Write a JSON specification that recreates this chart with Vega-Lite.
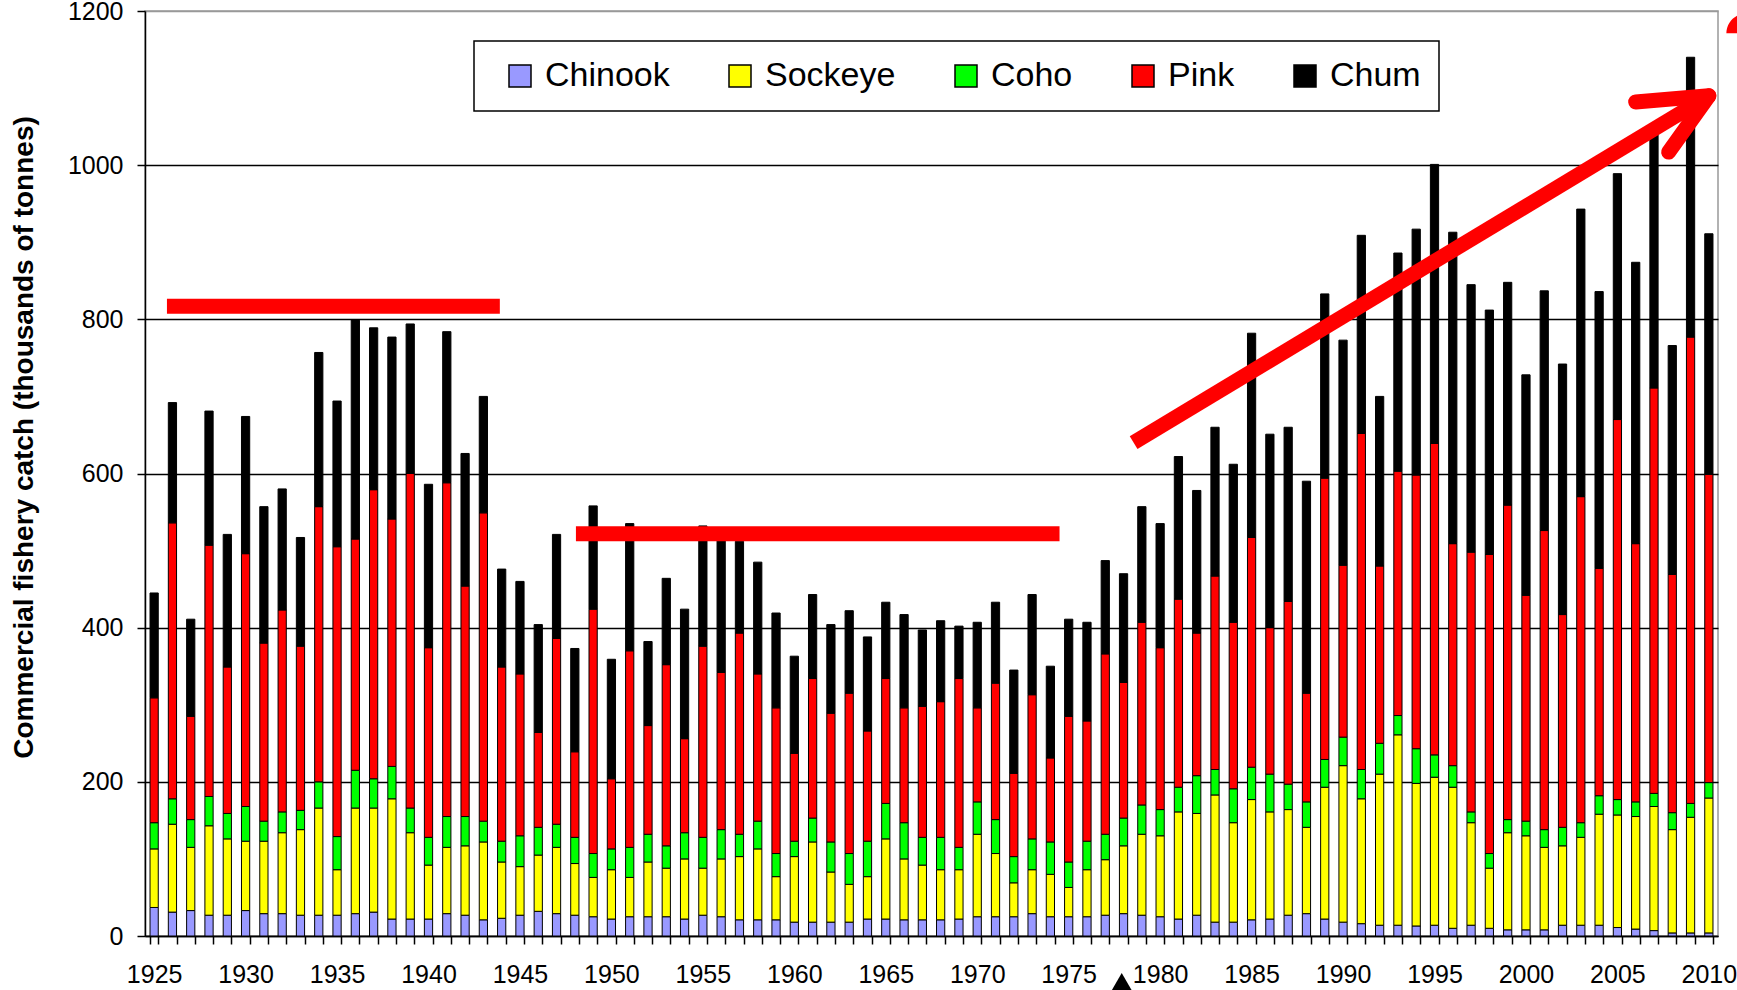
{
  "$schema": "https://vega.github.io/schema/vega-lite/v6.json",
  "width": 1573,
  "height": 925,
  "autosize": {"type": "none"},
  "padding": {"left": 145, "top": 11, "right": 19, "bottom": 54},
  "background": "white",
  "config": {
    "font": "Liberation Sans",
    "view": {"stroke": "#999999", "strokeWidth": 1.5}
  },
  "layer": [
    {
      "data": {"values": [
        {"year":1925,"Chinook":37,"Sockeye":76,"Coho":34,"Pink":162,"Chum":136},
        {"year":1926,"Chinook":31,"Sockeye":114,"Coho":33,"Pink":358,"Chum":156},
        {"year":1927,"Chinook":33,"Sockeye":82,"Coho":36,"Pink":134,"Chum":126},
        {"year":1928,"Chinook":27,"Sockeye":116,"Coho":38,"Pink":326,"Chum":174},
        {"year":1929,"Chinook":27,"Sockeye":99,"Coho":33,"Pink":190,"Chum":172},
        {"year":1930,"Chinook":33,"Sockeye":90,"Coho":45,"Pink":328,"Chum":178},
        {"year":1931,"Chinook":29,"Sockeye":94,"Coho":26,"Pink":231,"Chum":177},
        {"year":1932,"Chinook":29,"Sockeye":105,"Coho":27,"Pink":262,"Chum":157},
        {"year":1933,"Chinook":27,"Sockeye":111,"Coho":25,"Pink":213,"Chum":141},
        {"year":1934,"Chinook":27,"Sockeye":139,"Coho":34,"Pink":357,"Chum":200},
        {"year":1935,"Chinook":27,"Sockeye":59,"Coho":43,"Pink":376,"Chum":189},
        {"year":1936,"Chinook":29,"Sockeye":137,"Coho":49,"Pink":300,"Chum":284},
        {"year":1937,"Chinook":31,"Sockeye":135,"Coho":38,"Pink":375,"Chum":210},
        {"year":1938,"Chinook":22,"Sockeye":156,"Coho":42,"Pink":321,"Chum":236},
        {"year":1939,"Chinook":22,"Sockeye":112,"Coho":32,"Pink":434,"Chum":194},
        {"year":1940,"Chinook":22,"Sockeye":70,"Coho":36,"Pink":246,"Chum":212},
        {"year":1941,"Chinook":29,"Sockeye":86,"Coho":40,"Pink":433,"Chum":196},
        {"year":1942,"Chinook":27,"Sockeye":90,"Coho":38,"Pink":299,"Chum":172},
        {"year":1943,"Chinook":21,"Sockeye":101,"Coho":27,"Pink":400,"Chum":151},
        {"year":1944,"Chinook":23,"Sockeye":73,"Coho":27,"Pink":226,"Chum":127},
        {"year":1945,"Chinook":27,"Sockeye":63,"Coho":40,"Pink":210,"Chum":120},
        {"year":1946,"Chinook":32,"Sockeye":73,"Coho":36,"Pink":123,"Chum":140},
        {"year":1947,"Chinook":29,"Sockeye":86,"Coho":30,"Pink":241,"Chum":135},
        {"year":1948,"Chinook":27,"Sockeye":67,"Coho":34,"Pink":111,"Chum":134},
        {"year":1949,"Chinook":25,"Sockeye":51,"Coho":31,"Pink":317,"Chum":134},
        {"year":1950,"Chinook":22,"Sockeye":64,"Coho":27,"Pink":91,"Chum":155},
        {"year":1951,"Chinook":25,"Sockeye":51,"Coho":39,"Pink":255,"Chum":165},
        {"year":1952,"Chinook":25,"Sockeye":71,"Coho":36,"Pink":141,"Chum":109},
        {"year":1953,"Chinook":25,"Sockeye":63,"Coho":29,"Pink":235,"Chum":112},
        {"year":1954,"Chinook":22,"Sockeye":78,"Coho":34,"Pink":122,"Chum":168},
        {"year":1955,"Chinook":27,"Sockeye":61,"Coho":40,"Pink":248,"Chum":156},
        {"year":1956,"Chinook":25,"Sockeye":75,"Coho":38,"Pink":204,"Chum":178},
        {"year":1957,"Chinook":21,"Sockeye":82,"Coho":29,"Pink":261,"Chum":119},
        {"year":1958,"Chinook":21,"Sockeye":92,"Coho":36,"Pink":191,"Chum":145},
        {"year":1959,"Chinook":21,"Sockeye":56,"Coho":30,"Pink":189,"Chum":123},
        {"year":1960,"Chinook":18,"Sockeye":85,"Coho":20,"Pink":114,"Chum":126},
        {"year":1961,"Chinook":18,"Sockeye":104,"Coho":31,"Pink":181,"Chum":109},
        {"year":1962,"Chinook":18,"Sockeye":65,"Coho":39,"Pink":167,"Chum":115},
        {"year":1963,"Chinook":18,"Sockeye":49,"Coho":40,"Pink":208,"Chum":107},
        {"year":1964,"Chinook":22,"Sockeye":55,"Coho":46,"Pink":143,"Chum":122},
        {"year":1965,"Chinook":22,"Sockeye":104,"Coho":46,"Pink":162,"Chum":99},
        {"year":1966,"Chinook":21,"Sockeye":79,"Coho":47,"Pink":149,"Chum":121},
        {"year":1967,"Chinook":21,"Sockeye":71,"Coho":36,"Pink":170,"Chum":99},
        {"year":1968,"Chinook":21,"Sockeye":65,"Coho":42,"Pink":176,"Chum":105},
        {"year":1969,"Chinook":22,"Sockeye":64,"Coho":29,"Pink":219,"Chum":68},
        {"year":1970,"Chinook":25,"Sockeye":107,"Coho":42,"Pink":122,"Chum":111},
        {"year":1971,"Chinook":25,"Sockeye":82,"Coho":44,"Pink":177,"Chum":105},
        {"year":1972,"Chinook":25,"Sockeye":44,"Coho":34,"Pink":108,"Chum":134},
        {"year":1973,"Chinook":29,"Sockeye":57,"Coho":40,"Pink":187,"Chum":130},
        {"year":1974,"Chinook":25,"Sockeye":55,"Coho":42,"Pink":109,"Chum":119},
        {"year":1975,"Chinook":25,"Sockeye":38,"Coho":33,"Pink":189,"Chum":126},
        {"year":1976,"Chinook":25,"Sockeye":61,"Coho":37,"Pink":156,"Chum":128},
        {"year":1977,"Chinook":27,"Sockeye":72,"Coho":33,"Pink":234,"Chum":121},
        {"year":1978,"Chinook":29,"Sockeye":88,"Coho":36,"Pink":176,"Chum":141},
        {"year":1979,"Chinook":27,"Sockeye":105,"Coho":38,"Pink":237,"Chum":150},
        {"year":1980,"Chinook":25,"Sockeye":105,"Coho":34,"Pink":210,"Chum":161},
        {"year":1981,"Chinook":22,"Sockeye":139,"Coho":32,"Pink":244,"Chum":185},
        {"year":1982,"Chinook":27,"Sockeye":132,"Coho":49,"Pink":185,"Chum":185},
        {"year":1983,"Chinook":18,"Sockeye":165,"Coho":33,"Pink":251,"Chum":193},
        {"year":1984,"Chinook":18,"Sockeye":129,"Coho":44,"Pink":216,"Chum":205},
        {"year":1985,"Chinook":21,"Sockeye":156,"Coho":42,"Pink":298,"Chum":265},
        {"year":1986,"Chinook":22,"Sockeye":139,"Coho":49,"Pink":190,"Chum":251},
        {"year":1987,"Chinook":27,"Sockeye":137,"Coho":33,"Pink":237,"Chum":226},
        {"year":1988,"Chinook":29,"Sockeye":112,"Coho":33,"Pink":141,"Chum":275},
        {"year":1989,"Chinook":22,"Sockeye":171,"Coho":36,"Pink":365,"Chum":239},
        {"year":1990,"Chinook":18,"Sockeye":203,"Coho":37,"Pink":223,"Chum":292},
        {"year":1991,"Chinook":16,"Sockeye":162,"Coho":38,"Pink":436,"Chum":257},
        {"year":1992,"Chinook":14,"Sockeye":196,"Coho":40,"Pink":230,"Chum":220},
        {"year":1993,"Chinook":14,"Sockeye":247,"Coho":25,"Pink":317,"Chum":283},
        {"year":1994,"Chinook":13,"Sockeye":185,"Coho":45,"Pink":355,"Chum":319},
        {"year":1995,"Chinook":14,"Sockeye":192,"Coho":29,"Pink":404,"Chum":362},
        {"year":1996,"Chinook":10,"Sockeye":183,"Coho":28,"Pink":288,"Chum":404},
        {"year":1997,"Chinook":14,"Sockeye":133,"Coho":14,"Pink":337,"Chum":347},
        {"year":1998,"Chinook":10,"Sockeye":78,"Coho":19,"Pink":388,"Chum":317},
        {"year":1999,"Chinook":8,"Sockeye":126,"Coho":17,"Pink":408,"Chum":289},
        {"year":2000,"Chinook":8,"Sockeye":122,"Coho":19,"Pink":293,"Chum":286},
        {"year":2001,"Chinook":8,"Sockeye":107,"Coho":23,"Pink":388,"Chum":311},
        {"year":2002,"Chinook":14,"Sockeye":103,"Coho":24,"Pink":276,"Chum":325},
        {"year":2003,"Chinook":14,"Sockeye":114,"Coho":19,"Pink":423,"Chum":373},
        {"year":2004,"Chinook":14,"Sockeye":144,"Coho":24,"Pink":295,"Chum":359},
        {"year":2005,"Chinook":11,"Sockeye":146,"Coho":20,"Pink":493,"Chum":319},
        {"year":2006,"Chinook":9,"Sockeye":146,"Coho":19,"Pink":335,"Chum":365},
        {"year":2007,"Chinook":7,"Sockeye":161,"Coho":17,"Pink":526,"Chum":339},
        {"year":2008,"Chinook":4,"Sockeye":134,"Coho":22,"Pink":309,"Chum":297},
        {"year":2009,"Chinook":4,"Sockeye":150,"Coho":18,"Pink":605,"Chum":363},
        {"year":2010,"Chinook":4,"Sockeye":175,"Coho":20,"Pink":400,"Chum":312}
      ]},
      "transform": [
        {"fold": ["Chinook", "Sockeye", "Coho", "Pink", "Chum"], "as": ["species", "catch"]},
        {"calculate": "indexof(['Chinook','Sockeye','Coho','Pink','Chum'], datum.species)", "as": "stackOrder"}
      ],
      "mark": {"type": "bar", "stroke": "black", "strokeWidth": 1},
      "encoding": {
        "x": {
          "field": "year", "type": "ordinal",
          "scale": {"paddingInner": 0.55, "paddingOuter": 0.275},
          "axis": {
            "title": null,
            "labelExpr": "datum.value % 5 == 0 ? datum.label : ''",
            "labelAngle": 0,
            "labelFontSize": 25,
            "labelColor": "black",
            "labelPadding": 18,
            "labelDx": 2,
            "tickBand": "extent",
            "tickSize": 8,
            "tickColor": "black",
            "tickWidth": 1.5,
            "domainColor": "black",
            "domainWidth": 1.5,
            "grid": false
          }
        },
        "y": {
          "field": "catch", "type": "quantitative", "stack": "zero",
          "scale": {"domain": [0, 1200], "nice": false},
          "axis": {
            "title": "Commercial fishery catch (thousands of tonnes)",
            "titleFontSize": 28,
            "titleFontWeight": "bold",
            "titleColor": "black",
            "titleAngle": -90,
            "titleX": -121,
            "titleY": 426,
            "titleAlign": "center",
            "titleBaseline": "middle",
            "values": [0, 200, 400, 600, 800, 1000, 1200],
            "format": "d",
            "labelFontSize": 25,
            "labelColor": "black",
            "labelPadding": 14,
            "tickSize": 8,
            "tickColor": "black",
            "tickWidth": 1.5,
            "domainColor": "black",
            "domainWidth": 1.5,
            "grid": true,
            "gridColor": {"condition": {"test": "datum.value == 1200", "value": "#999999"}, "value": "black"},
            "gridWidth": 1.3
          }
        },
        "color": {
          "field": "species", "type": "nominal",
          "sort": ["Chinook", "Sockeye", "Coho", "Pink", "Chum"],
          "scale": {
            "domain": ["Chinook", "Sockeye", "Coho", "Pink", "Chum"],
            "range": ["#9999FF", "#FFFF00", "#00FF00", "#FF0000", "#000000"]
          },
          "legend": {
            "title": null,
            "orient": "none",
            "legendX": 329,
            "legendY": 30,
            "direction": "horizontal",
            "columns": 5,
            "fillColor": "white",
            "strokeColor": "black",
            "padding": 18,
            "symbolOffset": 11,
            "symbolType": "square",
            "symbolSize": 484,
            "symbolStrokeColor": "black",
            "symbolStrokeWidth": 1.5,
            "symbolOpacity": 1,
            "labelFontSize": 34,
            "labelColor": "black",
            "labelOffset": 8,
            "labelLimit": 400,
            "columnPadding": 42,
            "labelExpr": "datum.label == 'Chum' ? 'Chum\u2003' : datum.label",
            "encode": {"legend": {"update": {"strokeWidth": {"value": 1.5}}}}
          }
        },
        "order": {"field": "stackOrder", "type": "quantitative", "sort": "ascending"}
      }
    },
    {
      "data": {"values": [
        {"x": 1925.7, "x2": 1943.9, "y": 817, "y2": 817},
        {"x": 1948.06, "x2": 1974.5, "y": 522, "y2": 522},
        {"x": 1978.55, "x2": 2009.6, "y": 640, "y2": 1084}
      ]},
      "mark": {"type": "rule", "color": "#FF0000", "strokeWidth": 15, "strokeCap": "butt"},
      "encoding": {
        "x": {"field": "x", "type": "quantitative", "scale": {"domain": [1924.5, 2010.5], "nice": false, "zero": false}, "axis": null},
        "x2": {"field": "x2"},
        "y": {"field": "y", "type": "quantitative", "scale": {"domain": [0, 1200], "nice": false}, "axis": null},
        "y2": {"field": "y2"}
      }
    },
    {
      "data": {"values": [
        {"x": 2006.0, "x2": 2010.0, "y": 1082, "y2": 1090},
        {"x": 2007.8, "x2": 2010.0, "y": 1017, "y2": 1090}
      ]},
      "mark": {"type": "rule", "color": "#FF0000", "strokeWidth": 15, "strokeCap": "round"},
      "encoding": {
        "x": {"field": "x", "type": "quantitative", "scale": {"domain": [1924.5, 2010.5], "nice": false, "zero": false}, "axis": null},
        "x2": {"field": "x2"},
        "y": {"field": "y", "type": "quantitative", "scale": {"domain": [0, 1200], "nice": false}, "axis": null},
        "y2": {"field": "y2"}
      }
    },
    {
      "data": {"values": [{"x": 1977.9, "y": -62.6}]},
      "mark": {"type": "point", "shape": "triangle-up", "size": 676, "filled": true, "color": "black", "opacity": 1},
      "encoding": {
        "x": {"field": "x", "type": "quantitative", "scale": {"domain": [1924.5, 2010.5], "nice": false, "zero": false}, "axis": null},
        "y": {"field": "y", "type": "quantitative", "scale": {"domain": [0, 1200], "nice": false}, "axis": null}
      }
    },
    {
      "data": {"values": [{"x": 2012.05, "y": 1171}]},
      "mark": {"type": "point", "shape": "M-1,0A1,1,0,0,1,1,0Z", "size": 1600, "filled": true, "color": "#FF0000", "opacity": 1},
      "encoding": {
        "x": {"field": "x", "type": "quantitative", "scale": {"domain": [1924.5, 2010.5], "nice": false, "zero": false}, "axis": null},
        "y": {"field": "y", "type": "quantitative", "scale": {"domain": [0, 1200], "nice": false}, "axis": null}
      }
    }
  ],
  "resolve": {"scale": {"x": "independent", "y": "independent"}}
}
